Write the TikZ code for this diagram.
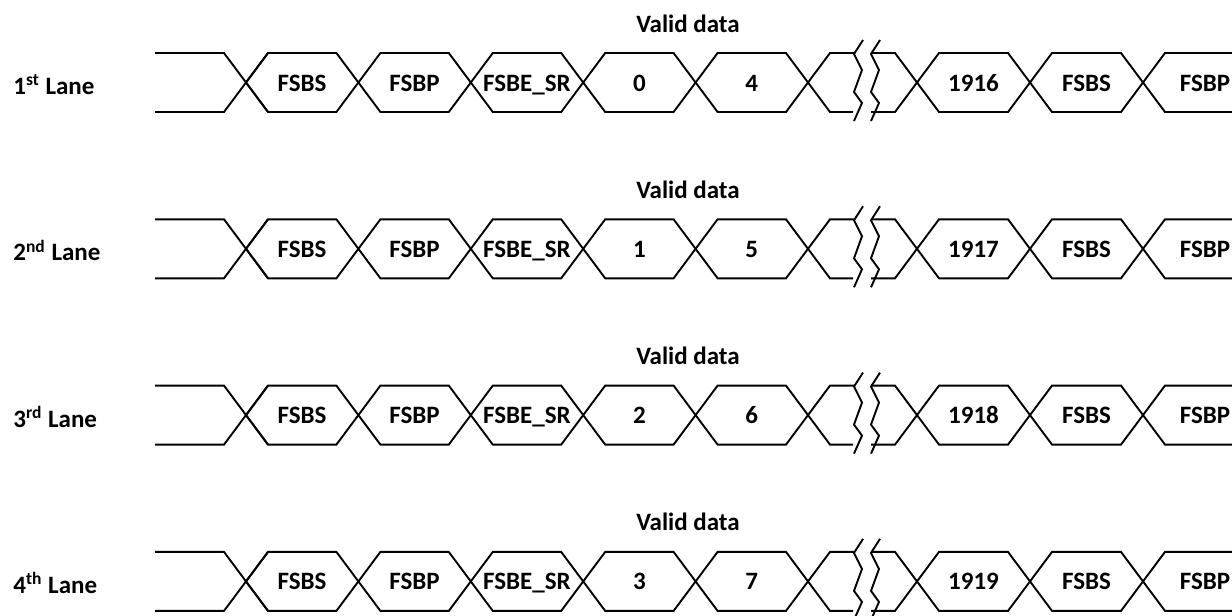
\documentclass[tikz,border=0pt]{standalone}
\usepackage{fontspec}
\setmainfont{Carlito}
\begin{document}
\begin{tikzpicture}[x=0.5pt,y=-0.5pt,
  sig/.style={line width=0.95pt, line join=miter},
  txt/.style={font=\bfseries\fontsize{12.5}{15}\selectfont, inner sep=0pt, anchor=base},
  lanelbl/.style={font=\bfseries\fontsize{12.5}{15}\selectfont, inner sep=0pt, anchor=base west}]
\useasboundingbox (0,0) rectangle (1232,616);
\foreach \k/\ord/\na/\nb/\nc in {0/st/0/4/1916, 1/nd/1/5/1917, 2/rd/2/6/1918, 3/th/3/7/1919} {
  \pgfmathsetmacro{\T}{53+166.3*\k}
  \pgfmathsetmacro{\B}{\T+59}
  \pgfmathsetmacro{\M}{\T+29.5}
  % lane label
  \node[lanelbl] (lane\k) at (13,\M+12) {\pgfmathparse{int(\k+1)}\pgfmathresult\textsuperscript{\ord} Lane};
  \node[txt] (valid\k) at (688,\T-21) {Valid data};
  % leading signal
  \draw[sig] (155,\T) -- (224,\T) -- (268,\B);
  \draw[sig] (155,\B) -- (224,\B) -- (268,\T);
  % hexagons before the break
  \foreach \a/\b in {246/358.4, 358.4/470.8, 470.8/583.2, 583.2/695.6, 695.6/808, 917/1030, 1030/1143} {
    \draw[sig] (\a,\M) -- (\a+22,\T) -- (\b-22,\T) -- (\b,\M) -- (\b-22,\B) -- (\a+22,\B) -- cycle;
  }
  % segment into the break
  \draw[sig] (854,\T) -- (830,\T) -- (808,\M) -- (830,\B) -- (853,\B);
  % break marks
  \draw[sig] (863,\T-13) -- (854,\T+1) -- (862,\T+17) -- (854,\T+39) -- (862,\T+50) -- (854,\T+68);
  \draw[sig] (880,\T-13) -- (871,\T+1) -- (879,\T+17) -- (871,\T+39) -- (879,\T+50) -- (871,\T+68);
  % segment out of the break
  \draw[sig] (871,\T) -- (895,\T) -- (917,\M) -- (895,\B) -- (871,\B);
  % trailing signal
  \draw[sig] (1232,\T) -- (1165,\T) -- (1143,\M) -- (1165,\B) -- (1232,\B);
  % texts
  \node[txt] (fsbs\k) at (302,\M+8.5) {FSBS};
  \node[txt] (fsbp\k) at (414.6,\M+8.5) {FSBP};
  \node[txt] (fsbe\k) at (527,\M+8.5) {FSBE\_SR};
  \node[txt] (da\k) at (639.4,\M+8.5) {\na};
  \node[txt] (db\k) at (751.8,\M+8.5) {\nb};
  \node[txt] (dc\k) at (973.5,\M+8.5) {\nc};
  \node[txt] (fsbsb\k) at (1086.5,\M+8.5) {FSBS};
  \node[txt] (fsbpb\k) at (1205,\M+8.5) {FSBP};
}
\end{tikzpicture}
\end{document}
